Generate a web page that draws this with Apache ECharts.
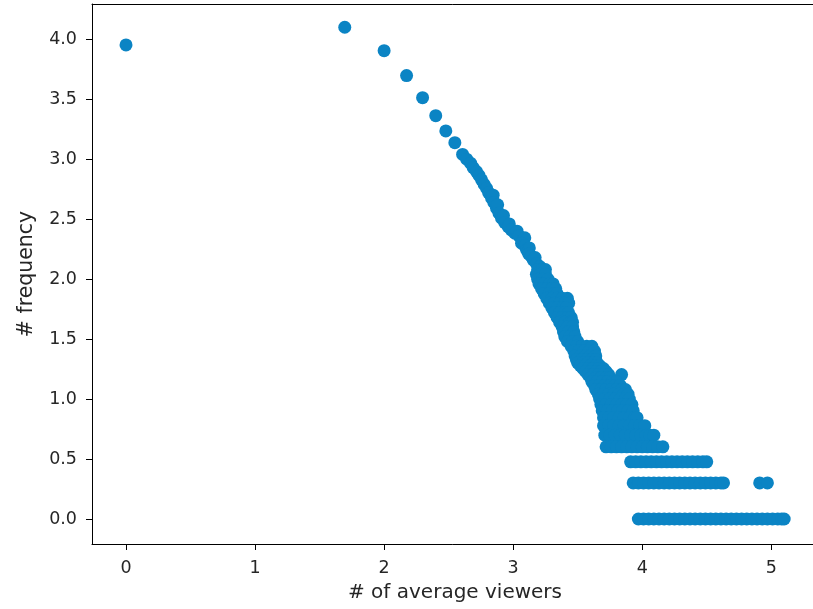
<!DOCTYPE html>
<html><head><meta charset="utf-8">
<script src="https://cdn.jsdelivr.net/npm/echarts@6/dist/echarts.min.js"></script>
<style>html,body{margin:0;padding:0;background:#fff;overflow:hidden}#c{width:813px;height:609px}</style>
</head><body><div id="c"></div>
<script>
// Tick labels
const xTicks = [0, 1, 2, 3, 4, 5];
const yTicks = [0, 0.5, 1.0, 1.5, 2.0, 2.5, 3.0, 3.5, 4.0];

// Sparse head of the distribution
const headX = [0, 1.695, 2.0, 2.174, 2.298, 2.40, 2.478, 2.548, 2.608];
const headY = [3.953, 4.10, 3.905, 3.697, 3.513, 3.363, 3.236, 3.138, 3.04];

// Upper band (thick line)
const bandX = [2.64, 2.67, 2.69, 2.716, 2.735, 2.755, 2.775, 2.794, 2.81, 2.833, 2.845, 2.85, 2.871, 2.88, 2.89, 2.91, 2.925, 2.935, 2.961, 2.97, 2.985, 3.013, 3.03, 3.045, 3.078, 3.09, 3.065, 3.09, 3.104, 3.125, 3.12, 3.14, 3.155, 3.17, 3.18, 3.207];
const bandY = [3.00, 2.967, 2.93, 2.897, 2.865, 2.828, 2.79, 2.758, 2.72, 2.675, 2.70, 2.64, 2.592, 2.62, 2.55, 2.508, 2.53, 2.47, 2.438, 2.46, 2.41, 2.383, 2.40, 2.36, 2.328, 2.345, 2.30, 2.28, 2.244, 2.26, 2.21, 2.19, 2.161, 2.18, 2.13, 2.105];

// Rows of the lower, wider band and the discrete count levels
const rowY = [2.08, 2.04, 2.00, 1.96, 1.92, 1.88, 1.84, 1.80, 1.76, 1.72, 1.68, 1.64, 1.60, 1.56, 1.52, 1.48, 1.44, 1.40, 1.36, 1.33,
  1.301, 1.279, 1.255, 1.230, 1.204, 1.176, 1.146, 1.114, 1.079, 1.041, 1.000, 0.954, 0.903, 0.845, 0.778, 0.699, 0.602, 0.477, 0.301, 0];
const rowX = [
  [3.19, 3.22, 3.25],
  [3.18, 3.21, 3.25],
  [3.19, 3.23, 3.27],
  [3.20, 3.24, 3.28, 3.31],
  [3.22, 3.26, 3.30, 3.33],
  [3.24, 3.28, 3.32, 3.34],
  [3.26, 3.30, 3.34, 3.38, 3.42],
  [3.28, 3.32, 3.36, 3.40, 3.43],
  [3.30, 3.34, 3.38, 3.41],
  [3.32, 3.36, 3.40, 3.43],
  [3.34, 3.38, 3.42, 3.45],
  [3.36, 3.40, 3.44, 3.46],
  [3.38, 3.42, 3.46],
  [3.39, 3.43, 3.47],
  [3.40, 3.44, 3.48],
  [3.42, 3.46, 3.50],
  [3.45, 3.49, 3.53, 3.57, 3.61],
  [3.47, 3.51, 3.55, 3.59, 3.63],
  [3.48, 3.52, 3.56, 3.60, 3.64],
  [3.49, 3.53, 3.57, 3.61, 3.64],
  [3.50, 3.54, 3.58, 3.62, 3.65],
  [3.52, 3.56, 3.60, 3.64, 3.67],
  [3.54, 3.58, 3.62, 3.66, 3.70],
  [3.56, 3.60, 3.64, 3.68, 3.72],
  [3.58, 3.62, 3.66, 3.70, 3.74, 3.84],
  [3.60, 3.64, 3.68, 3.72, 3.75],
  [3.61, 3.65, 3.69, 3.73, 3.77, 3.80],
  [3.63, 3.67, 3.71, 3.75, 3.79, 3.83],
  [3.64, 3.68, 3.72, 3.76, 3.80, 3.84, 3.87],
  [3.66, 3.70, 3.74, 3.78, 3.82, 3.86, 3.89],
  [3.67, 3.71, 3.75, 3.79, 3.83, 3.87, 3.90],
  [3.68, 3.72, 3.76, 3.80, 3.84, 3.88, 3.92],
  [3.69, 3.73, 3.77, 3.81, 3.85, 3.89, 3.93],
  [3.70, 3.74, 3.78, 3.82, 3.86, 3.90, 3.94, 3.96],
  [3.70, 3.74, 3.78, 3.82, 3.86, 3.90, 3.94, 3.98, 4.02],
  [3.71, 3.75, 3.79, 3.83, 3.87, 3.91, 3.95, 3.99, 4.03, 4.06, 4.09],
  [3.72, 3.76, 3.80, 3.84, 3.88, 3.92, 3.96, 4.00, 4.04, 4.08, 4.12, 4.16],
  [3.91, 3.95, 3.99, 4.03, 4.07, 4.11, 4.15, 4.19, 4.23, 4.27, 4.31, 4.35, 4.39, 4.43, 4.47, 4.50],
  [3.93, 3.97, 4.01, 4.05, 4.09, 4.13, 4.17, 4.21, 4.25, 4.29, 4.33, 4.37, 4.41, 4.45, 4.49, 4.53, 4.57, 4.61, 4.63, 4.91, 4.97],
  [3.97, 4.01, 4.05, 4.09, 4.13, 4.17, 4.21, 4.25, 4.29, 4.33, 4.37, 4.41, 4.45, 4.49, 4.53, 4.57, 4.61, 4.65, 4.69, 4.73, 4.77, 4.81, 4.85, 4.89, 4.93, 4.97, 5.01, 5.05, 5.08, 5.10]
];

const points = [];
headX.forEach((x, i) => points.push([x, headY[i]]));
bandX.forEach((x, i) => points.push([x, bandY[i]]));
rowY.forEach((y, r) => rowX[r].forEach(x => points.push([x, y])));

const font = 'DejaVu Sans';
const txt = '#262626';
const chart = echarts.init(document.getElementById('c'), null, {renderer: 'canvas'});
chart.setOption({
  animation: false,
  backgroundColor: '#fff',
  grid: {left: 92, top: 4, width: 726, height: 540, containLabel: false, outerBoundsMode: 'none'},
  xAxis: [{
    type: 'value', min: -0.2636, max: 5.362, position: 'bottom',
    name: '# of average viewers', nameLocation: 'middle', nameGap: 39,
    nameTextStyle: {fontFamily: font, fontSize: 20, color: txt},
    axisLine: {show: true, onZero: false, lineStyle: {color: '#000', width: 1}},
    axisTick: {show: true, length: 6, inside: false, customValues: xTicks, lineStyle: {color: '#000'}},
    axisLabel: {show: true, customValues: xTicks, margin: 15, fontFamily: font, fontSize: 17.5, color: txt,
      formatter: v => String(Math.round(v))},
    splitLine: {show: false}
  }, {
    type: 'value', min: -0.2636, max: 5.362, position: 'top',
    axisLine: {show: true, onZero: false, lineStyle: {color: '#000', width: 1}},
    axisTick: {show: false}, axisLabel: {show: false}, splitLine: {show: false}
  }],
  yAxis: [{
    type: 'value', min: -0.2083, max: 4.294, position: 'left',
    name: '# frequency', nameLocation: 'middle', nameGap: 55,
    nameTextStyle: {fontFamily: font, fontSize: 20.5, color: txt},
    axisLine: {show: true, onZero: false, lineStyle: {color: '#000', width: 1}},
    axisTick: {show: true, length: 6, customValues: yTicks, lineStyle: {color: '#000'}},
    axisLabel: {show: true, customValues: yTicks, margin: 15, fontFamily: font, fontSize: 17.5, color: txt,
      formatter: v => v.toFixed(1)},
    splitLine: {show: false}
  }],
  series: [{
    type: 'scatter',
    xAxisIndex: 0, yAxisIndex: 0,
    symbol: 'circle', symbolSize: 13,
    itemStyle: {color: '#0b84c4', opacity: 1},
    data: points
  }]
});
</script>
</body></html>
